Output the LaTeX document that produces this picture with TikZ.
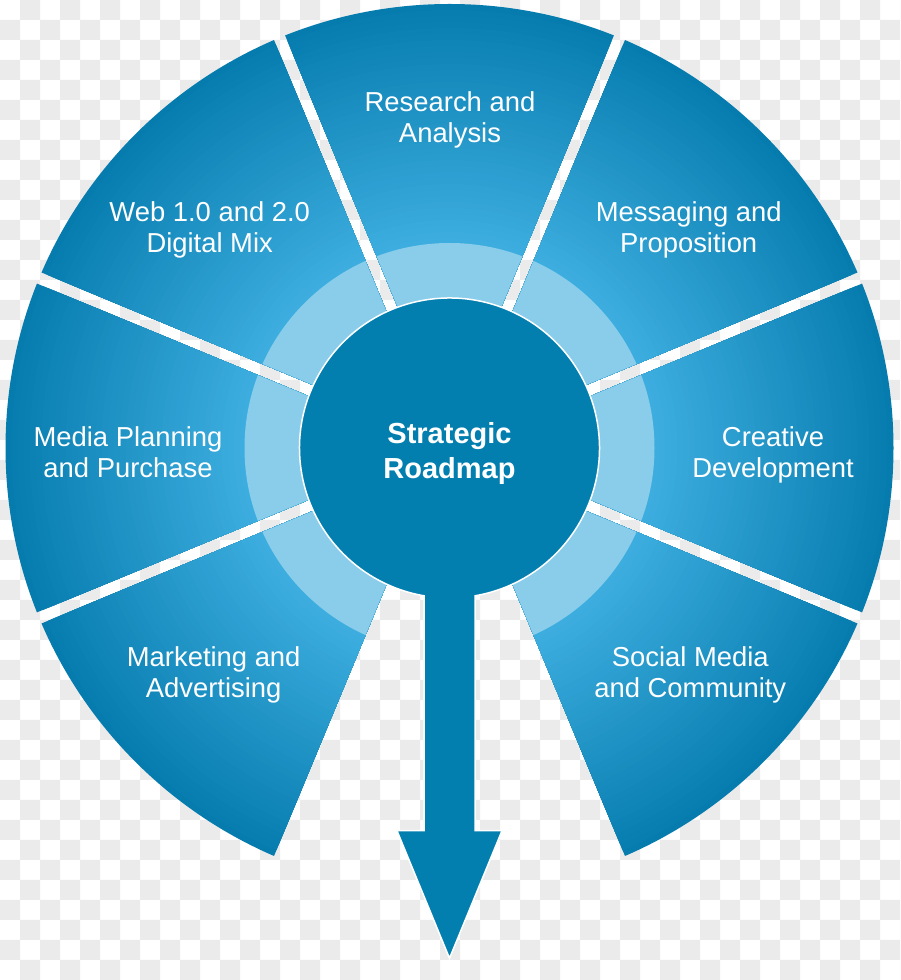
\documentclass[tikz,border=0pt]{standalone}
\usepackage{fontspec}
\setmainfont{Liberation Sans}
\usetikzlibrary{calc}
\definecolor{checkgray}{HTML}{EBEBEB}
\definecolor{seglight}{HTML}{3EAEE0}
\definecolor{segdark}{HTML}{067CAE}
\definecolor{ringblue}{HTML}{89CDEB}
\definecolor{coreblue}{HTML}{037FAF}
\begin{document}
\begin{tikzpicture}[x=1pt,y=1pt,
  seglabel/.style={text=white, align=center, inner sep=0pt, anchor=north, font=\fontsize{27.4}{31}\selectfont},
  corelabel/.style={text=white, align=center, inner sep=0pt, anchor=north, font=\bfseries\fontsize{29}{34.5}\selectfont},
  ringfill/.style={fill=ringblue},
  corefill/.style={fill=coreblue, draw=white, line width=1.5pt, line join=miter}
]
\useasboundingbox (0,0) rectangle (900,980);
\clip (0,0) rectangle (900,980);
\fill[white] (0,0) rectangle (900,980);
\fill[checkgray] \foreach \j in {0,...,48} { \foreach \k in {0,...,22} { ({20*(2*\k+mod(\j+1,2))},{960-20*\j}) rectangle ++(20,20) } };

\coordinate (C) at (449.5,532);
\foreach \a/\b in {-22.5/22.5, 22.5/67.5, 67.5/112.5, 112.5/157.5, 157.5/202.5, 202.5/247.5, 292.5/337.5}{
  \begin{scope}
    \clip ($(C)+({(\a+\b)/2}:15.68)$) -- ($(C)+({\a+90}:6)+(\a:600)$) -- ($(C)+({\b-90}:6)+(\b:600)$) -- cycle;
    \foreach \s in {0,...,40}{
      \pgfmathsetmacro\rr{444-6*\s}
      \pgfmathtruncatemacro\pc{max(0,(\rr-205)/2.39)}
      \fill[segdark!\pc!seglight] (C) circle[radius=\rr];
    }
    \fill[ringfill] (C) circle[radius=205];
  \end{scope}
}

\path[corefill] ($(C)+(-80.21:150)$) arc[start angle=-80.21, end angle=260.21, radius=150]
  -- ($(C)+(-25.5,-382.7)$) -- ($(C)+(-52.5,-382.7)$) -- ($(C)+(0,-510.3)$)
  -- ($(C)+(52.5,-382.7)$) -- ($(C)+(25.5,-382.7)$) -- cycle;

\node[corelabel] (core) at (449.5,557.3) {Strategic\\Roadmap};
\node[seglabel] (research) at (450,888.3) {Research and\\Analysis};
\node[seglabel] (web) at (209.7,778.3) {Web 1.0 and 2.0\\Digital Mix};
\node[seglabel] (messaging) at (688.7,778.3) {Messaging and\\Proposition};
\node[seglabel] (media) at (128,554) {Media Planning\\and Purchase};
\node[seglabel] (creative) at (773,554) {Creative\\Development};
\node[seglabel] (marketing) at (213.7,333.3) {Marketing and\\Advertising};
\node[seglabel] (social) at (690.3,333.3) {Social Media\\and Community};
\end{tikzpicture}
\end{document}
